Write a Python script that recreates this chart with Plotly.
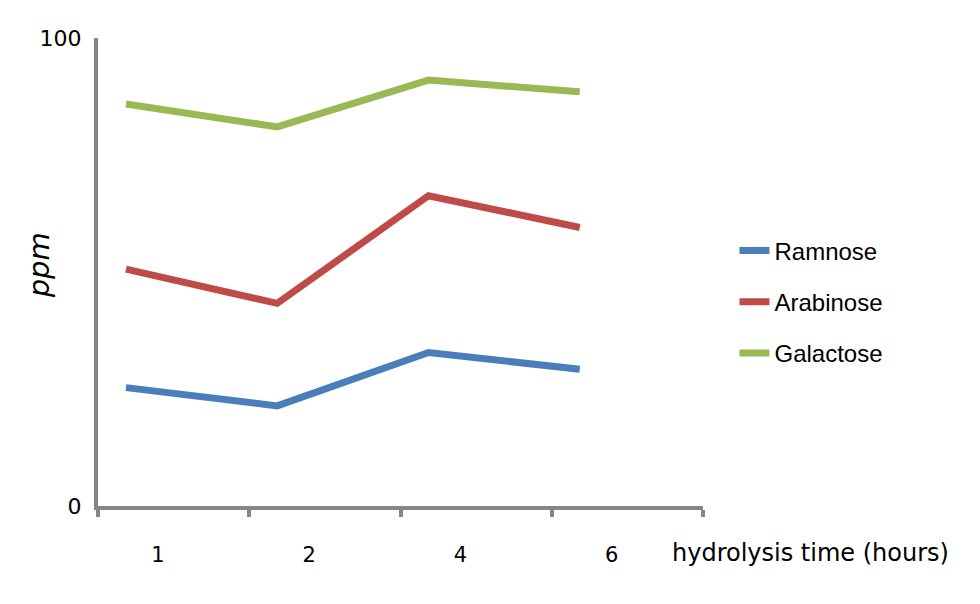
import plotly.graph_objects as go

categories = ["1", "2", "4", "6"]
ramnose = [25.3, 21.4, 32.8, 29.2]
arabinose = [50.6, 43.3, 66.3, 59.5]
galactose = [85.9, 81.0, 91.0, 88.5]

series = [("Ramnose", ramnose, "#4A7EBB"),
          ("Arabinose", arabinose, "#BE4B48"),
          ("Galactose", galactose, "#98B954")]

point_offset = 0.185
idx = list(range(len(categories)))
xs = [i + point_offset for i in idx]

fig = go.Figure()
for name, vals, color in series:
    fig.add_trace(go.Scatter(x=xs, y=vals, name=name, mode="lines",
                             legendgroup=name,
                             line=dict(color=color, width=7)))

axis_color = "#868686"
fig.update_layout(
    width=980, height=604,
    margin=dict(l=90, r=285, t=30, b=106),
    plot_bgcolor="white", paper_bgcolor="white",
    xaxis=dict(range=[0, len(categories)], tickvals=idx + [len(categories)],
               ticktext=categories + [""], ticks="outside", ticklen=7,
               tickwidth=4, tickcolor=axis_color, showline=True,
               linecolor=axis_color, linewidth=4, showgrid=False,
               zeroline=False, ticklabelshift=60, ticklabelstandoff=20,
               tickfont=dict(family="DejaVu Sans", size=21, color="black")),
    yaxis=dict(range=[0, 100], tickvals=[0, 100], ticks="", showline=True,
               linecolor=axis_color, linewidth=4, showgrid=False,
               zeroline=False, ticklabelstandoff=8,
               tickfont=dict(family="DejaVu Sans", size=22, color="black")),
    legend=dict(x=1.052, y=0.436, xanchor="left", yanchor="middle",
                font=dict(family="Liberation Sans", size=24, color="black"),
                tracegroupgap=17, bgcolor="rgba(0,0,0,0)"),
    annotations=[
        dict(text="hydrolysis time (hours)", xref="paper", yref="paper",
             x=0.945, y=0, xanchor="left", yanchor="middle", yshift=-47,
             showarrow=False,
             font=dict(family="DejaVu Sans", size=24, color="black")),
        dict(text="<i>ppm</i>", xref="paper", yref="paper", x=-0.097,
             y=0.515, xanchor="center", yanchor="middle", textangle=-90,
             showarrow=False,
             font=dict(family="DejaVu Sans", size=29, color="black")),
    ],
)

fig.write_html("out.html")
